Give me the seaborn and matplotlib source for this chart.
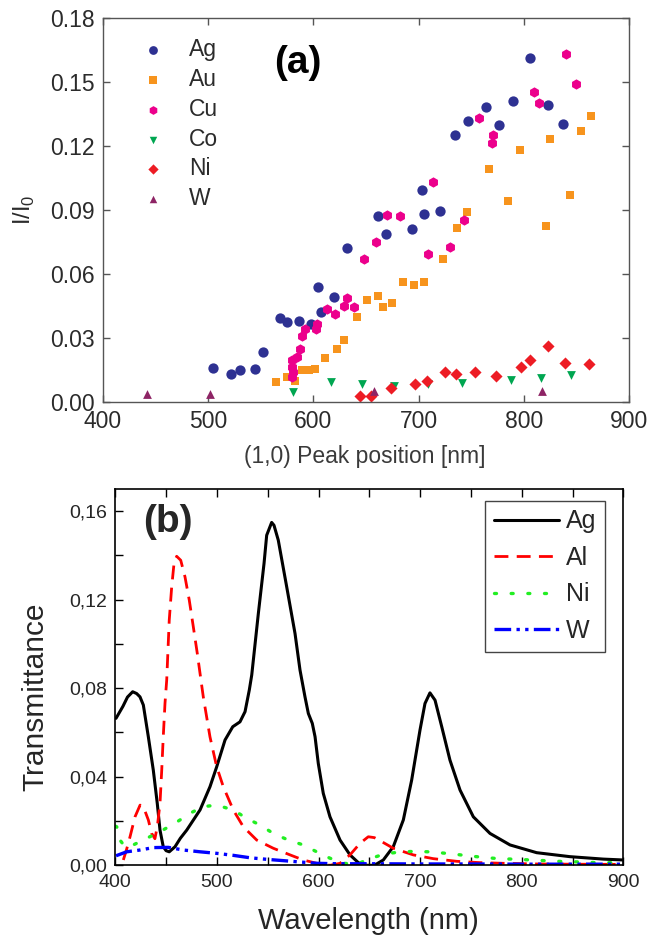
import matplotlib
matplotlib.use("Agg")
import matplotlib.pyplot as plt
import seaborn as sns
import numpy as np
import pandas as pd
from matplotlib.ticker import MultipleLocator, FixedLocator, FixedFormatter

sns.set_style("ticks")
plt.rcParams['font.family'] = ['Liberation Sans', 'DejaVu Sans']
plt.rcParams['mathtext.fontset'] = 'custom'
plt.rcParams['mathtext.rm'] = 'Liberation Sans'

# ---------------- panel (a) data ----------------
metals_a = ["Ag", "Au", "Cu", "Co", "Ni", "W"]
Ag_x = [505.2, 521.7, 530.5, 544.6, 552.2, 568.3, 574.7, 586.3, 597.5, 604.0, 607.2, 619.3, 631.7,
        661.4, 668.7, 694.0, 703.2, 704.8, 720.5, 734.5, 746.6, 763.5, 776.7, 789.6, 806.0, 822.5, 837.3]
Ag_y = [0.0156, 0.0130, 0.0150, 0.0152, 0.0235, 0.0391, 0.0375, 0.0380, 0.0364, 0.0536, 0.0422, 0.0492, 0.0723,
        0.0870, 0.0785, 0.0812, 0.0993, 0.0881, 0.0893, 0.1251, 0.1318, 0.1381, 0.1300, 0.1411, 0.1611, 0.1392, 0.1301]
Au_x = [564.7, 575.1, 582.3, 589.2, 595.6, 602.0, 610.8, 622.9, 629.3, 641.4, 651.4, 661.0, 665.9, 674.3,
        685.1, 695.6, 704.8, 723.3, 736.5, 745.8, 766.7, 785.1, 796.0, 820.5, 824.9, 843.8, 854.2, 863.9]
Au_y = [0.0094, 0.0117, 0.0097, 0.0150, 0.0150, 0.0155, 0.0206, 0.0247, 0.0291, 0.0399, 0.0477, 0.0497, 0.0443, 0.0463,
        0.0560, 0.0549, 0.0560, 0.0669, 0.0815, 0.0890, 0.1090, 0.0940, 0.1182, 0.0824, 0.1231, 0.0971, 0.1271, 0.1339]
Cu_x = [580.1, 579.5, 581.0, 580.1, 584.2, 587.4, 589.3, 592.4, 602.6, 603.2, 613.0, 620.9, 628.9, 631.7, 638.6,
        648.1, 659.8, 670.0, 682.0, 709.2, 714.0, 730.1, 743.4, 757.4, 769.5, 770.3, 809.2, 814.0, 839.8, 849.8]
Cu_y = [0.0196, 0.0164, 0.0141, 0.0117, 0.0208, 0.0246, 0.0308, 0.0340, 0.0342, 0.0363, 0.0435, 0.0413, 0.0449, 0.0488, 0.0446,
        0.0669, 0.0748, 0.0876, 0.0873, 0.0693, 0.1032, 0.0724, 0.0852, 0.1331, 0.1212, 0.1251, 0.1451, 0.1401, 0.1631, 0.1490]
Co_x = [580.7, 616.5, 646.2, 676.3, 708.4, 741.4, 787.6, 816.1, 844.2]
Co_y = [0.0044, 0.0094, 0.0083, 0.0074, 0.0083, 0.0088, 0.0103, 0.0109, 0.0125]
Ni_x = [644.6, 654.6, 673.5, 696.4, 707.6, 725.3, 735.3, 753.8, 773.1, 797.6, 806.0, 822.9, 838.9, 862.2]
Ni_y = [0.0028, 0.0028, 0.0063, 0.0083, 0.0097, 0.0141, 0.0130, 0.0141, 0.0122, 0.0161, 0.0194, 0.0260, 0.0180, 0.0175]
W_x = [442.2, 502.0, 657.4, 817.3]
W_y = [0.0036, 0.0036, 0.0052, 0.0052]
a_xticks = [400, 500, 600, 700, 800, 900]
a_yticks = [0.00, 0.03, 0.06, 0.09, 0.12, 0.15, 0.18]

# ---------------- panel (b) data ----------------
Ag_wl = [400.7, 407.5, 412.0, 417.1, 421.0, 424.3, 427.6, 432.5, 437.4, 441.3, 444.0, 447.2, 450.0, 453.1, 458.8,
         464.0, 470.3, 483.4, 493.2, 499.8, 508.0, 515.6, 522.7, 527.7, 531.9, 534.3, 540.8, 546.4, 549.0, 553.9,
         556.2, 560.4, 568.7, 576.9, 581.8, 586.7, 590.0, 593.9, 596.6, 599.8, 604.7, 611.3, 621.2, 631.0, 639.2,
         647.4, 655.0, 663.8, 673.6, 683.5, 691.7, 699.9, 704.8, 709.7, 714.7, 721.3, 729.4, 739.3, 752.4, 768.8,
         788.5, 814.7, 847.5, 880.3, 900.0]
Ag_T = [0.0664, 0.0718, 0.0760, 0.0784, 0.0776, 0.0761, 0.0724, 0.0581, 0.0430, 0.0280, 0.0159, 0.0084, 0.0066, 0.0061, 0.0084,
        0.0122, 0.0159, 0.0250, 0.0355, 0.0445, 0.0566, 0.0626, 0.0648, 0.0694, 0.0792, 0.0860, 0.1138, 0.1364, 0.1491, 0.1549,
        0.1536, 0.1469, 0.1258, 0.1047, 0.0882, 0.0761, 0.0686, 0.0641, 0.0581, 0.0460, 0.0325, 0.0219, 0.0114, 0.0047, 0.0012,
        0.0000, 0.0000, 0.0024, 0.0084, 0.0205, 0.0385, 0.0611, 0.0731, 0.0779, 0.0746, 0.0626, 0.0475, 0.0340, 0.0219, 0.0144,
        0.0092, 0.0057, 0.0039, 0.0028, 0.0024]
Al_wl = [407.9, 411.0, 414.5, 419.4, 424.4, 427.6, 432.5, 435.8, 439.0, 441.5, 444.0, 445.7, 447.2, 448.9, 450.6,
         453.1, 455.5, 457.8, 460.4, 464.4, 468.6, 472.8, 476.8, 480.7, 483.4, 486.6, 493.2, 499.8, 506.3, 516.1,
         526.0, 539.2, 555.5, 572.0, 585.0, 598.2, 611.3, 621.2, 631.0, 640.8, 649.0, 655.0, 662.2, 673.6, 693.3,
         713.0, 736.0, 758.9, 781.9, 814.7, 847.5, 899.0]
Al_T = [0.0024, 0.0070, 0.0129, 0.0219, 0.0272, 0.0265, 0.0205, 0.0144, 0.0120, 0.0180, 0.0280, 0.0430, 0.0580, 0.0731, 0.0837,
        0.1108, 0.1258, 0.1364, 0.1396, 0.1378, 0.1303, 0.1198, 0.1077, 0.0957, 0.0867, 0.0761, 0.0580, 0.0445, 0.0355, 0.0250,
        0.0174, 0.0114, 0.0077, 0.0047, 0.0024, 0.0009, 0.0000, 0.0009, 0.0047, 0.0099, 0.0129, 0.0125, 0.0107, 0.0077, 0.0047,
        0.0030, 0.0018, 0.0012, 0.0009, 0.0006, 0.0005, 0.0004]
Ni_wl = [400.0, 401.4, 404.6, 409.5, 417.7, 430.9, 444.0, 458.8, 473.5, 486.6, 499.8, 516.1, 529.3, 542.4, 555.5,
         570.3, 585.0, 598.2, 611.3, 624.4, 637.6, 650.7, 665.5, 680.2, 694.0, 708.1, 721.3, 736.0, 749.1, 762.2,
         777.0, 790.2, 804.9, 818.0, 831.1, 845.9, 860.6, 873.8, 886.9, 899.0]
Ni_T = [0.0177, 0.0174, 0.0114, 0.0084, 0.0092, 0.0122, 0.0152, 0.0190, 0.0235, 0.0265, 0.0272, 0.0250, 0.0212, 0.0182, 0.0144,
        0.0114, 0.0092, 0.0061, 0.0032, 0.0009, 0.0005, 0.0030, 0.0052, 0.0060, 0.0063, 0.0061, 0.0056, 0.0049, 0.0042, 0.0036,
        0.0030, 0.0028, 0.0025, 0.0022, 0.0019, 0.0016, 0.0015, 0.0012, 0.0012, 0.0011]
W_wl = [400.7, 411.2, 424.3, 437.4, 452.2, 467.0, 483.4, 499.8, 516.1, 532.6, 549.0, 565.4, 581.8, 598.2, 617.9,
        650.0, 700.0, 750.0, 800.0, 850.0, 899.0]
W_T = [0.0043, 0.0061, 0.0069, 0.0080, 0.0081, 0.0069, 0.0061, 0.0054, 0.0045, 0.0034, 0.0027, 0.0021, 0.0015, 0.0009, 0.0007,
       0.0007, 0.0006, 0.0006, 0.0005, 0.0005, 0.0005]
b_yticks = [0.00, 0.04, 0.08, 0.12, 0.16]
b_yticklabels = ["0,00", "0,04", "0,08", "0,12", "0,16"]
b_xticks = [400, 500, 600, 700, 800, 900]

# ---------------- figure ----------------
fig = plt.figure(figsize=(6.64, 9.35), dpi=100)
W, H = 664, 935

def add_ax(l, r, t, b):
    return fig.add_axes([l / W, 1 - b / H, (r - l) / W, (b - t) / H])

txt_a = '#2b2b2b'
ax1 = add_ax(102.7, 629.3, 18, 401.7)
series_a = [
    ("Ag", Ag_x, Ag_y, '#2E3192', 'o', 55),
    ("Au", Au_x, Au_y, '#F7941D', 's', 36),
    ("Cu", Cu_x, Cu_y, '#EC008C', 'h', 55),
    ("Co", Co_x, Co_y, '#00A651', 'v', 40),
    ("Ni", Ni_x, Ni_y, '#ED1C24', 'D', 38),
    ("W", W_x, W_y, '#8E2465', '^', 40),
]
for name, xs, ys, col, mk, s in series_a:
    sns.scatterplot(x=xs, y=ys, ax=ax1, color=col, marker=mk, s=s, linewidth=0, label=name)
ax1.set_xlim(400, 900)
ax1.set_ylim(0, 0.18)
ax1.set_xticks(a_xticks)
ax1.set_yticks(a_yticks)
ax1.set_yticklabels([f"{v:.2f}" for v in a_yticks])
ax1.tick_params(direction='in', length=5, width=1, color='#555555', labelsize=16.5,
                labelcolor=txt_a, top=True, right=True, pad=6)
for sp in ax1.spines.values():
    sp.set_color('#555555')
    sp.set_linewidth(1.0)
ax1.set_xlabel("(1,0) Peak position [nm]", fontsize=16.5, color='#3a3a3a')
ax1.xaxis.set_label_coords(0.498, -0.112)
ax1.set_ylabel(r"I/I$_\mathregular{0}$", fontsize=17, color=txt_a)
ax1.yaxis.set_label_coords(-0.125, 0.5)
ax1.text(0.371, 0.883, "(a)", transform=ax1.transAxes, fontsize=28, fontweight='bold',
         ha='center', va='center', color='black')
leg1 = ax1.legend(loc='upper left', bbox_to_anchor=(0.035, 0.972), frameon=False, fontsize=16.5,
                  handletextpad=0.55, labelspacing=0.3, markerscale=0.85, borderaxespad=0)
for t in leg1.get_texts():
    t.set_color(txt_a)

# ---------------- panel (b) ----------------
ax2 = add_ax(115.3, 623.3, 489, 865.3)
sns.lineplot(x=Ag_wl, y=Ag_T, ax=ax2, color='black', linewidth=2.2, label='Ag', sort=False)
sns.lineplot(x=Al_wl, y=Al_T, ax=ax2, color='#FF0000', linewidth=2.0, label='Al', sort=False,
             dashes=False, linestyle=(0, (5, 3)))
sns.lineplot(x=Ni_wl, y=Ni_T, ax=ax2, color='#22EE22', linewidth=2.4, label='Ni', sort=False,
             linestyle=(0, (0.6, 4.4)), dash_capstyle='round')
sns.lineplot(x=W_wl, y=W_T, ax=ax2, color='#0000FF', linewidth=2.4, label='W', sort=False,
             linestyle=(0, (5, 1.6, 1, 1.6, 1, 1.6)))
ax2.set_xlim(400, 900)
ax2.set_ylim(0, 0.17)
ax2.xaxis.set_major_locator(FixedLocator(b_xticks))
ax2.xaxis.set_minor_locator(MultipleLocator(50))
ax2.yaxis.set_major_locator(FixedLocator(b_yticks))
ax2.yaxis.set_major_formatter(FixedFormatter(b_yticklabels))
ax2.yaxis.set_minor_locator(MultipleLocator(0.02))
ax2.tick_params(which='both', direction='in', top=True, right=False, color='black', width=1)
ax2.tick_params(which='major', length=6, labelsize=14, pad=6)
ax2.tick_params(which='minor', length=6)
for sp in ax2.spines.values():
    sp.set_color('black')
    sp.set_linewidth(1.2)
ax2.set_xlabel("Wavelength (nm)", fontsize=21)
ax2.xaxis.set_label_coords(0.498, -0.11)
ax2.set_ylabel("Transmittance", fontsize=21.5)
ax2.yaxis.set_label_coords(-0.13, 0.447)
ax2.text(0.104, 0.912, "(b)", transform=ax2.transAxes, fontsize=28, fontweight='bold',
         ha='center', va='center')
leg2 = ax2.legend(loc='upper right', bbox_to_anchor=(0.9646, 0.969), borderaxespad=0, fontsize=18,
                  handlelength=2.6, handletextpad=0.3, labelspacing=0.5, borderpad=0.35,
                  fancybox=False, framealpha=1, edgecolor='#444444')
leg2.get_frame().set_linewidth(1.0)

fig.savefig("out.png", dpi=100)
